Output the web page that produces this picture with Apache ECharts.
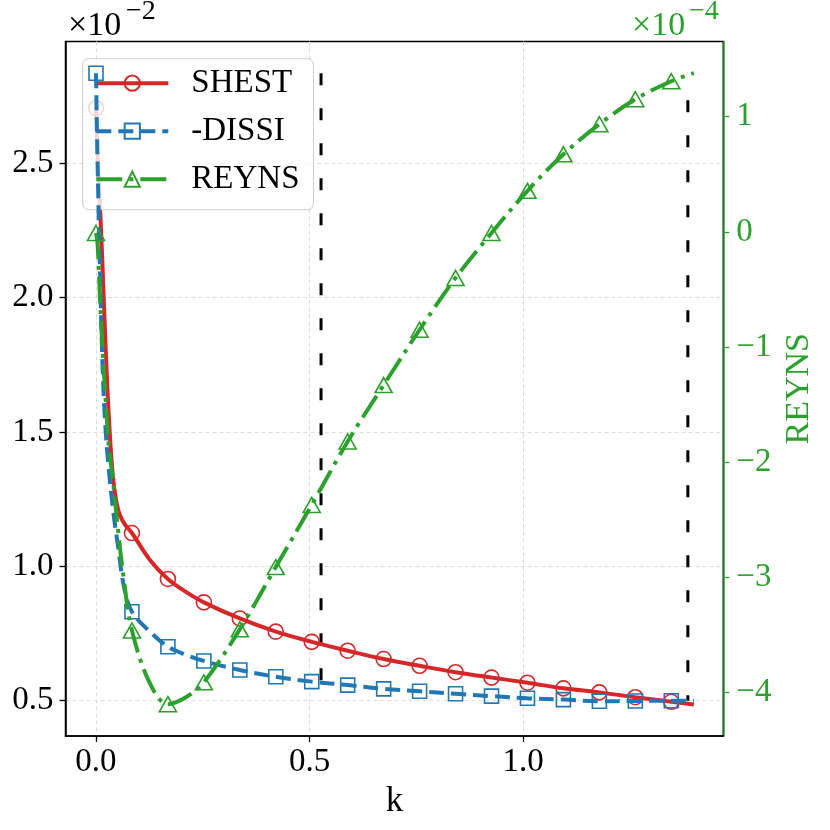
<!DOCTYPE html>
<html>
<head>
<meta charset="utf-8">
<title>SHEST / DISSI / REYNS vs k</title>
<script src="https://cdn.jsdelivr.net/npm/echarts@6/dist/echarts.min.js"></script>
<style>
  html, body { margin: 0; padding: 0; background: #fff; }
  #main { width: 830px; height: 830px; }
</style>
</head>
<body>
<div id="main"></div>
<script>
// k grid (fine near 0 where the curves drop steeply)
var kVals = [0, 0.004, 0.009, 0.015, 0.022, 0.03, 0.04, 0.052, 0.066, 0.0842,
             0.1263, 0.1684, 0.2105, 0.2526, 0.3368, 0.4210, 0.5052, 0.5894,
             0.6736, 0.7578, 0.8420, 0.9262, 1.0104, 1.0946, 1.1788, 1.2630,
             1.3472, 1.40];
// left axis, x 1e-2
var shest = [2.705, 2.52, 2.35, 2.13, 1.84, 1.56, 1.33, 1.21, 1.16, 1.124,
             1.024, 0.953, 0.905, 0.866, 0.806, 0.757, 0.719, 0.686,
             0.655, 0.630, 0.606, 0.586, 0.567, 0.546, 0.531, 0.513,
             0.496, 0.486];
var dissi = [2.835, 2.48, 2.13, 1.76, 1.52, 1.36, 1.21, 1.07, 0.92, 0.831,
             0.757, 0.701, 0.671, 0.648, 0.614, 0.589, 0.571, 0.558,
             0.544, 0.535, 0.526, 0.517, 0.509, 0.504, 0.498, 0.499,
             0.500, 0.500];
// right axis, x 1e-4
var reyns = [-0.01, -0.12, -0.55, -1.0, -1.42, -1.85, -2.17, -2.6, -3.04, -3.46,
             -3.92, -4.10, -4.04, -3.91, -3.45, -2.91, -2.37, -1.82,
             -1.33, -0.85, -0.40, -0.01, 0.356, 0.673, 0.934, 1.151,
             1.307, 1.378];
// which points carry a marker
var markerIdx = [0, 9, 11, 13, 14, 15, 16, 17, 18, 19, 20, 21, 22, 23, 24, 25, 26];

var xTicks = [0, 0.5, 1.0];
var yTicks = [0.5, 1.0, 1.5, 2.0, 2.5];
var y2Ticks = [-4, -3, -2, -1, 0, 1];

// vertical dashed markers
var vlineK = [0.527, 1.386];
var vlineTop = [2.835, 2.735];
var vlineBottom = [0.5, 0.5];

var RED = '#d62728', BLUE = '#1f77b4', GREEN = '#2ca02c';
var FONT = "'Liberation Serif', 'DejaVu Serif', serif";

function pts(vals) {
  var out = [];
  for (var i = 0; i < kVals.length; i++) {
    var item = { value: [kVals[i], vals[i]] };
    if (markerIdx.indexOf(i) < 0) item.symbol = 'none';
    out.push(item);
  }
  return out;
}

function minus(v) {
  return String(v).replace('-', '\u2212');
}

var chart = echarts.init(document.getElementById('main'));

var series = [
  {
    name: 'SHEST', type: 'line', yAxisIndex: 0,
    data: pts(shest), smooth: 0.35,
    symbol: 'circle', symbolSize: 15, showAllSymbol: true,
    lineStyle: { color: RED, width: 4 },
    itemStyle: { color: 'rgba(255,255,255,0)', borderColor: RED, borderWidth: 1.6 },
    z: 3
  },
  {
    name: '-DISSI', type: 'line', yAxisIndex: 0,
    data: pts(dissi), smooth: 0.35,
    symbol: 'rect', symbolSize: 14, showAllSymbol: true,
    lineStyle: { color: BLUE, width: 4, type: [15, 7] },
    itemStyle: { color: 'rgba(255,255,255,0)', borderColor: BLUE, borderWidth: 1.6 },
    z: 4
  },
  {
    name: 'REYNS', type: 'line', yAxisIndex: 1,
    data: pts(reyns), smooth: 0.35,
    symbol: 'triangle', symbolSize: [17, 15], showAllSymbol: true,
    lineStyle: { color: GREEN, width: 4, type: [26, 7, 4, 7] },
    itemStyle: { color: 'rgba(255,255,255,0)', borderColor: GREEN, borderWidth: 1.6 },
    z: 5
  }
];

for (var j = 0; j < vlineK.length; j++) {
  series.push({
    type: 'line', yAxisIndex: 0, silent: true, symbol: 'none',
    data: [[vlineK[j], vlineTop[j]], [vlineK[j], vlineBottom[j]]],
    lineStyle: { color: '#000', width: 3, type: [12, 23] },
    z: 2
  });
}

var option = {
  animation: false,
  backgroundColor: '#fff',
  grid: {
    left: 65.5, right: 106.7, top: 41.5, bottom: 94,
    show: true, borderColor: '#000', borderWidth: 1.5
  },
  legend: {
    data: ['SHEST', '-DISSI', 'REYNS'],
    orient: 'vertical', left: 82.7, top: 58.7,
    itemWidth: 72, itemHeight: 19, itemGap: 15,
    padding: [8, 14, 14, 11.6],
    backgroundColor: 'rgba(255,255,255,0.8)',
    borderColor: '#cccccc', borderWidth: 1, borderRadius: 6,
    selectedMode: false,
    lineStyle: { width: 4 },
    textStyle: { fontFamily: FONT, fontSize: 33, lineHeight: 33, color: '#000', padding: [0, 0, 0, 18] }
  },
  xAxis: {
    type: 'value', min: -0.0714, max: 1.469,
    name: 'k', nameLocation: 'middle', nameGap: 42,
    nameTextStyle: { fontFamily: FONT, fontSize: 35, color: '#000' },
    axisLine: { onZero: false, lineStyle: { color: '#000', width: 1.5 } },
    axisTick: { length: 6, lineStyle: { color: '#000', width: 1.3 }, customValues: xTicks },
    axisLabel: {
      customValues: xTicks, margin: 10,
      fontFamily: FONT, fontSize: 33, color: '#000',
      formatter: function (v) { return v.toFixed(1); }
    },
    splitLine: { show: true, lineStyle: { color: '#dddddd', width: 1, type: [4, 3] } }
  },
  yAxis: [
    {
      type: 'value', position: 'left', min: 0.3686, max: 2.9533,
      axisLine: { show: true, onZero: false, lineStyle: { color: '#000', width: 1.5 } },
      axisTick: { show: true, length: 6, lineStyle: { color: '#000', width: 1.3 }, customValues: yTicks },
      axisLabel: {
        customValues: yTicks, margin: 12,
        fontFamily: FONT, fontSize: 33, color: '#000',
        formatter: function (v) { return v.toFixed(1); }
      },
      splitLine: { show: true, lineStyle: { color: '#dddddd', width: 1, type: [4, 3] } }
    },
    {
      type: 'value', position: 'right', min: -4.376, max: 1.652,
      name: 'REYNS', nameLocation: 'middle', nameGap: 55,
      nameTextStyle: { fontFamily: FONT, fontSize: 34, color: GREEN },
      axisLine: { show: true, onZero: false, lineStyle: { color: GREEN, width: 1.5 } },
      axisTick: { show: true, length: 6, lineStyle: { color: GREEN, width: 1.3 }, customValues: y2Ticks },
      axisLabel: {
        customValues: y2Ticks, margin: 13,
        fontFamily: FONT, fontSize: 33, color: GREEN,
        formatter: function (v) { return minus(v); }
      },
      splitLine: { show: false }
    }
  ],
  graphic: [
    { type: 'text', left: 68, top: 9, style: { text: '\u00d710', fontFamily: FONT, fontSize: 34, fill: '#000' } },
    { type: 'text', left: 126, top: -2, style: { text: '\u22122', fontFamily: FONT, fontSize: 28, fill: '#000' } },
    { type: 'text', left: 632, top: 9, style: { text: '\u00d710', fontFamily: FONT, fontSize: 34, fill: GREEN } },
    { type: 'text', left: 689, top: -2, style: { text: '\u22124', fontFamily: FONT, fontSize: 28, fill: GREEN } }
  ],
  series: series
};

chart.setOption(option);
</script>
</body>
</html>
